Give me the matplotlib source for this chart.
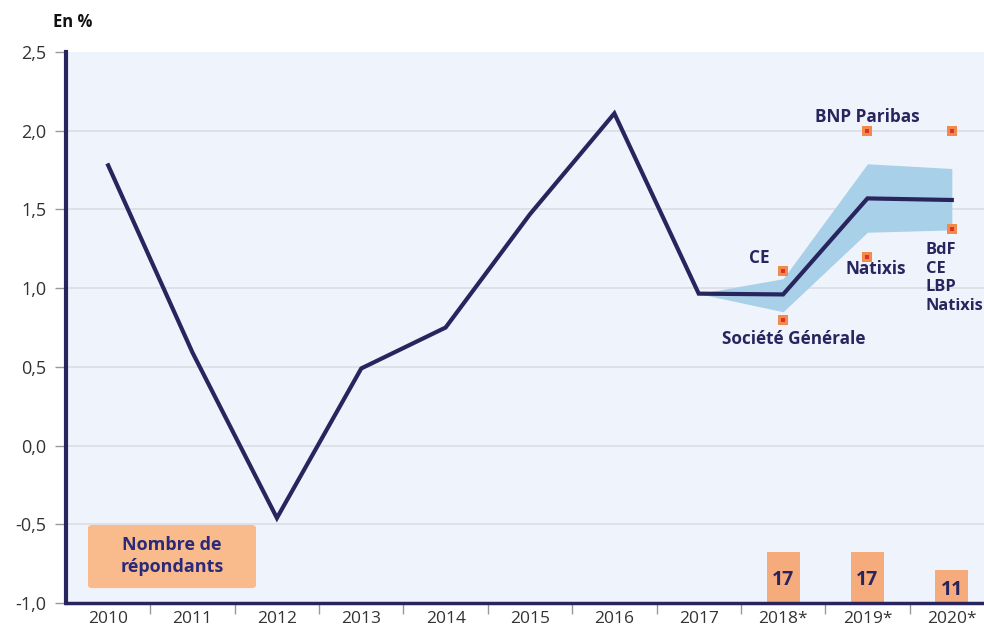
import matplotlib
matplotlib.use("Agg")
import matplotlib.pyplot as plt
from matplotlib.patches import FancyBboxPatch
import numpy as np

years = ["2010", "2011", "2012", "2013", "2014", "2015", "2016", "2017", "2018*", "2019*", "2020*"]
values = [1.78, 0.59, -0.46, 0.49, 0.75, 1.47, 2.11, 0.965, 0.96, 1.57, 1.56]

band_idx = [7, 8, 9, 10]
band_low = [0.965, 0.85, 1.355, 1.37]
band_high = [0.965, 1.06, 1.79, 1.76]

mark_idx = [8, 8, 9, 9, 10, 10]
mark_val = [1.11, 0.80, 2.00, 1.195, 2.00, 1.375]

resp_idx = [8, 9, 10]
resp_count = [17, 17, 11]
resp_scale = 0.0192  # height on axis per respondent, from bottom at -1.0

navy = "#28245e"
plt.rcParams['font.family'] = ['Open Sans', 'DejaVu Sans']

fig = plt.figure(figsize=(9.84, 6.28), dpi=100)
ax = fig.add_axes([66/984, 1-603/628, 928/984, 551/628])
ax.set_facecolor("#eff3fb")
ax.set_xlim(-0.5, 10.5)
ax.set_ylim(-1.0, 2.5)

yt = np.arange(-1.0, 2.51, 0.5)
ax.set_yticks(yt)
ax.set_yticklabels([f"{v:.1f}".replace(".", ",") for v in yt], fontsize=13, color="#333333")
for v in yt[1:-1]:
    ax.axhline(v, color="#dcdde3", lw=1.2, zorder=0)

x = np.arange(len(years))
ax.set_xticks(x)
ax.set_xticklabels(years, fontsize=12.5, color="#333333")
ax.tick_params(axis="x", length=0, pad=6)
ax.set_xticks(x[:-1] + 0.5, minor=True)
ax.tick_params(axis="x", which="minor", length=8, color="#999999", width=1)
ax.tick_params(axis="y", length=8, color="#999999", width=1, pad=6)

for s in ["top", "right"]:
    ax.spines[s].set_visible(False)
ax.spines["left"].set_color(navy)
ax.spines["left"].set_linewidth(3)
ax.spines["bottom"].set_color(navy)
ax.spines["bottom"].set_linewidth(2.5)

# band
ax.fill_between(band_idx, band_low, band_high, color="#a9d0e9", lw=0, zorder=2)
ax.plot(x, values, color=navy, lw=3, zorder=3, solid_joinstyle="miter")

# markers
ax.scatter(mark_idx, mark_val, marker="s", s=42, color="#f28a4c", zorder=4, linewidths=0)
ax.scatter(mark_idx, mark_val, marker="s", s=8, color="#e0302a", zorder=5, linewidths=0)

# bars
heights = [c * resp_scale for c in resp_count]
ax.bar(resp_idx, heights, bottom=-1.0, width=0.39, color="#f6ab7d", zorder=2)
for i, c, h in zip(resp_idx, resp_count, heights):
    ax.text(i, -1.0 + h/2 - 0.02, str(c), ha="center", va="center", fontsize=14,
            fontweight="bold", color=navy, zorder=3)

# labels box
box = FancyBboxPatch((0.0237, 0.027), 0.181, 0.1146, boxstyle="round,pad=0,rounding_size=0.005",
                     transform=ax.transAxes, facecolor="#f9bb8b", edgecolor="none", zorder=2)
ax.add_patch(box)
ax.text(0.114, 0.085, "Nombre de\nrépondants", transform=ax.transAxes, ha="center", va="center",
        fontsize=13, fontweight="bold", color="#2b2a7a", linespacing=1.3, zorder=3)

lab = dict(fontweight="bold", color=navy, zorder=6)
ax.text(9, 2.09, "BNP Paribas", ha="center", va="center", fontsize=12.3, **lab)
ax.text(7.72, 1.19, "CE", ha="center", va="center", fontsize=12.3, **lab)
ax.text(8.13, 0.68, "Société Générale", ha="center", va="center", fontsize=12.3, **lab)
ax.text(9.1, 1.12, "Natixis", ha="center", va="center", fontsize=12.3, **lab)
ax.text(9.69, 1.29, "BdF\nCE\nLBP\nNatixis", ha="left", va="top", linespacing=1.2,
        fontsize=11.8, **lab)

fig.text(53/984, 1-22/628, "En %", ha="left", va="center", fontsize=12, fontweight="bold", color="#111111")

fig.savefig("out.png", dpi=100)
